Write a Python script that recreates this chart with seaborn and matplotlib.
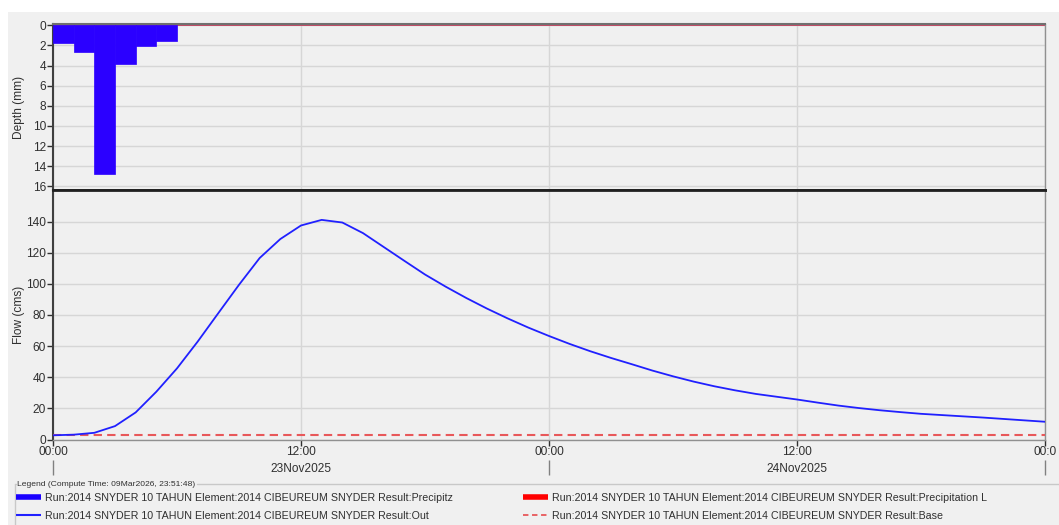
"""
Hydrograph recreation: precipitation hyetograph on top, outflow + baseflow below
"""

import numpy as np
import pandas as pd
import matplotlib
matplotlib.use('Agg')
import matplotlib.pyplot as plt
from matplotlib.lines import Line2D
from matplotlib.patches import Rectangle
import seaborn as sns

# ---- data (hours since 23Nov2025 00:00) ----
precip_hours = [0, 1, 2, 3, 4, 5]
precip_depth = [1.8, 2.7, 14.8, 3.85, 2.1, 1.55]     # mm per 1-hour interval

loss_hours = [0, 48]
loss_depth = [0.0, 0.0]

flow_hours = list(range(0, 49))
outflow = [2.7, 3.1, 4.3, 8.6, 17.4, 30.7, 45.7, 62.9, 81.2, 99.4,
           116.6, 128.8, 137.5, 141.1, 139.4, 132.6, 123.7, 114.8, 106.0, 98.2,
           90.9, 84.1, 77.8, 71.9, 66.5, 61.4, 56.7, 52.4, 48.4, 44.3,
           40.6, 37.2, 34.2, 31.6, 29.3, 27.5, 25.7, 23.7, 21.8, 20.2,
           18.8, 17.6, 16.5, 15.7, 14.9, 14.1, 13.2, 12.3, 11.4]
baseflow = [2.7] * 49

time_ticks = [0, 12, 24, 36, 48]
time_labels = ['00:00', '12:00', '00:00', '12:00', '00:0']
date_ticks = [12, 36]
date_labels = ['23Nov2025', '24Nov2025']
day_bounds = [0, 24, 48]

depth_ticks = [0, 2, 4, 6, 8, 10, 12, 14, 16]
flow_ticks = [0, 20, 40, 60, 80, 100, 120, 140]

legend_title = 'Legend (Compute Time: 09Mar2026, 23:51:48)'
run_prefix = 'Run:2014 SNYDER 10 TAHUN Element:2014 CIBEUREUM SNYDER Result:'
legend_left = [run_prefix + 'Precipitz', run_prefix + 'Out']
legend_right = [run_prefix + 'Precipitation L', run_prefix + 'Base']

# ---- styling ----
sns.set_style('white')
plt.rcParams['font.family'] = ['Liberation Sans', 'DejaVu Sans']

BG = '#f0f0f0'
GRID = '#d6d6d6'
TXT = '#303030'
BAR_BLUE = '#2b00ff'
LINE_BLUE = '#2020ff'
BASE_RED = '#e8585a'
FS = 8.6

W, H = 1059, 525
fig = plt.figure(figsize=(W / 100, H / 100), dpi=100)
fig.patch.set_facecolor('white')
fig.patches.append(Rectangle((8 / W, 0), 1 - 8 / W, 1 - 12 / H,
                             transform=fig.transFigure, facecolor=BG,
                             edgecolor='none', zorder=-10))


def px_axes(left, top, right, bottom):
    return fig.add_axes([left / W, 1 - bottom / H, (right - left) / W, (bottom - top) / H])


ax_p = px_axes(53, 24, 1045, 190)
ax_q = px_axes(53, 190, 1045, 439.5)

for ax in (ax_p, ax_q):
    ax.set_facecolor(BG)
    ax.set_xlim(0, 48)
    ax.set_xticks(time_ticks)
    ax.grid(True, color=GRID, lw=1)
    ax.set_axisbelow(True)
    ax.tick_params(axis='both', labelsize=FS, colors=TXT, length=4, width=1,
                   direction='out', left=True, bottom=True, pad=1)
    for s in ax.spines.values():
        s.set_color('#909090')
        s.set_linewidth(1)
    ax.spines['left'].set_color('#404040')
    ax.spines['left'].set_linewidth(1.5)

# ---- precipitation panel ----
sns.lineplot(x=loss_hours, y=loss_depth, ax=ax_p, color='#c03050', lw=1.2,
             drawstyle='steps-post', zorder=2)
ax_p.bar(precip_hours, precip_depth, width=1.0, align='edge', color=BAR_BLUE,
         edgecolor=BAR_BLUE, lw=0.5, zorder=3)
ax_p.set_ylim(16.35, -0.12)
ax_p.set_yticks(depth_ticks)
ax_p.set_xticklabels([])
ax_p.tick_params(axis='x', length=0)
ax_p.set_ylabel('Depth (mm)', fontsize=FS, color=TXT)
ax_p.spines['top'].set_color('#707070')
ax_p.spines['top'].set_linewidth(1.5)
ax_p.spines['bottom'].set_color('#202020')
ax_p.spines['bottom'].set_linewidth(2)

# ---- flow panel ----
df = pd.DataFrame({'hour': flow_hours, 'outflow': outflow, 'baseflow': baseflow})
sns.lineplot(data=df, x='hour', y='baseflow', ax=ax_q, color=BASE_RED, lw=1.5,
             linestyle=(0, (4, 2.5)), zorder=3)
sns.lineplot(data=df, x='hour', y='outflow', ax=ax_q, color=LINE_BLUE, lw=1.3, zorder=4)
ax_q.set_ylim(0, 160.3)
ax_q.set_yticks(flow_ticks)
ax_q.set_xticklabels(time_labels)
ax_q.set_xlabel('')
ax_q.set_ylabel('Flow (cms)', fontsize=FS, color=TXT)
ax_q.spines['top'].set_color('#202020')
ax_q.spines['top'].set_linewidth(2)

for ax in (ax_p, ax_q):
    ax.yaxis.set_label_coords(-0.0285, 0.5)

# second row of x labels: dates and day separators
sec = ax_q.secondary_xaxis(-0.082)
sec.set_xticks(date_ticks)
sec.set_xticklabels(date_labels)
sec.set_xticks(day_bounds, minor=True)
sec.tick_params(which='major', length=0, pad=2, labelsize=FS, colors=TXT)
sec.tick_params(which='minor', length=11, width=1, color='#808080')
sec.spines['bottom'].set_visible(False)

# ---- legend ----
fig.add_artist(Line2D([15 / W, 15 / W], [1 - 484 / H, 0], transform=fig.transFigure,
                      color='#c8c8c8', lw=1))
fig.add_artist(Line2D([15 / W, 16 / W], [1 - 484 / H, 1 - 484 / H],
                      transform=fig.transFigure, color='#c8c8c8', lw=1))
fig.add_artist(Line2D([197 / W, 1], [1 - 484 / H, 1 - 484 / H], transform=fig.transFigure,
                      color='#c8c8c8', lw=1))
fig.text(17 / W, 1 - 484 / H, legend_title, fontsize=6.1, color=TXT, va='center', ha='left')

handles_left = [Line2D([], [], color='#1a00ff', lw=4, solid_capstyle='butt'),
                Line2D([], [], color=LINE_BLUE, lw=1.5, solid_capstyle='butt')]
handles_right = [Line2D([], [], color='#ff0000', lw=4, solid_capstyle='butt'),
                 Line2D([], [], color=BASE_RED, lw=1.3, linestyle=(0, (3, 2)))]
leg_kw = dict(loc='upper left', frameon=False, fontsize=7.7, handlelength=2.3,
              handletextpad=0.45, labelspacing=0.75, borderpad=0, borderaxespad=0,
              labelcolor=TXT)
fig.legend(handles_left, legend_left, bbox_to_anchor=(16 / W, 1 - 493 / H), **leg_kw)
fig.legend(handles_right, legend_right, bbox_to_anchor=(523 / W, 1 - 493 / H), **leg_kw)

fig.savefig('out.png', dpi=100, facecolor='white')
